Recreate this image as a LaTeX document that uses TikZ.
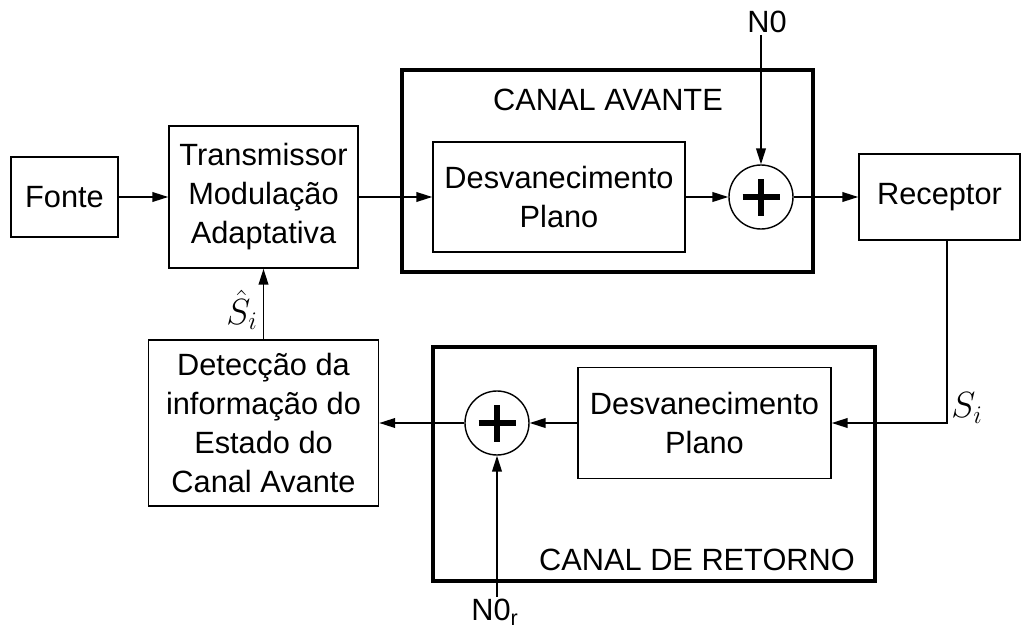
\documentclass[tikz,border=0pt]{standalone}
\usepackage{fontspec}
\setmainfont{Liberation Sans}
\usepackage{tikz}
\usetikzlibrary{arrows.meta, positioning, calc}

\begin{document}
\begin{tikzpicture}[
  bloco/.style={draw, line width=0.9pt, align=center, inner sep=0pt},
  canal/.style={draw, line width=2.4pt, inner sep=0pt},
  soma/.style={draw, circle, line width=0.8pt, minimum size=1.28cm, inner sep=0pt},
  seta/.style={-{Triangle[length=9pt,width=5.5pt]}, line width=0.9pt},
  font=\fontsize{17.5}{22.2}\selectfont
]
  \useasboundingbox (0,0) rectangle (20.48,12.6);

  % Canal avante
  \node[canal, minimum width=8.22cm, minimum height=4.04cm] (avante) at (12.15, 9.18) {};
  \node (tavante) at (12.16, 10.6) {CANAL AVANTE};
  \node[bloco, minimum width=5.04cm, minimum height=2.2cm] (desvA) at (11.18, 8.66) {Desvanecimento\\Plano};
  \node[soma] (somaA) at (15.22, 8.66) {};
  \node[inner sep=1pt] (n0) at (15.34, 12.16) {N0};

  % Canal de retorno
  \node[canal, minimum width=8.84cm, minimum height=4.68cm] (retorno) at (13.08, 3.32) {};
  \node (tretorno) at (13.94, 1.4) {CANAL DE RETORNO};
  \node[bloco, minimum width=5.06cm, minimum height=2.22cm] (desvR) at (14.09, 4.14) {Desvanecimento\\Plano};
  \node[soma] (somaR) at (9.94, 4.14) {};
  \node[inner sep=1pt] (n0r) at (9.9, 0.36) {N0\textsubscript{r}};

  % Blocos
  \node[bloco, minimum width=2.14cm, minimum height=1.6cm] (fonte) at (1.29, 8.66) {Fonte};
  \node[bloco, minimum width=3.78cm, minimum height=2.84cm] (trans) at (5.27, 8.66) {Transmissor\\Modula\c{c}\~ao\\Adaptativa};
  \node[bloco, minimum width=3.22cm, minimum height=1.72cm] (receptor) at (18.79, 8.66) {Receptor};
  \node[bloco, minimum width=4.6cm, minimum height=3.32cm] (detec) at (5.27, 4.14) {Detec\c{c}\~ao da\\informa\c{c}\~ao do\\Estado do\\Canal Avante};

  % Sinais
  \node[inner sep=0pt] (shat) at (4.84, 6.4) {\fontsize{21}{24}\selectfont $\hat{S}_i$};
  \node[inner sep=0pt] (si) at (19.34, 4.44) {\fontsize{21}{24}\selectfont $S_i$};

  % Somadores
  \foreach \s in {somaA, somaR} {
    \draw[line width=3.4pt] ($(\s)+(-0.37,0)$) -- ($(\s)+(0.37,0)$)
      ($(\s)+(0,-0.37)$) -- ($(\s)+(0,0.37)$);
  }

  % Conexoes
  \coordinate (desce) at (18.94, 4.14);
  \draw[seta] (fonte) -- (trans);
  \draw[seta] (trans) -- (desvA);
  \draw[seta] (desvA) -- (somaA);
  \draw[seta] (somaA) -- (receptor);
  \draw[seta] (somaA |- n0.south) -- (somaA);
  \draw[seta] (receptor.south -| desce) -- (desce) -- (desvR);
  \draw[seta] (desvR) -- (somaR);
  \draw[seta] (somaR) -- (detec);
  \draw[seta] (somaR |- n0r.north) -- (somaR);
  \draw[seta] (detec) -- (trans);
\end{tikzpicture}
\end{document}
